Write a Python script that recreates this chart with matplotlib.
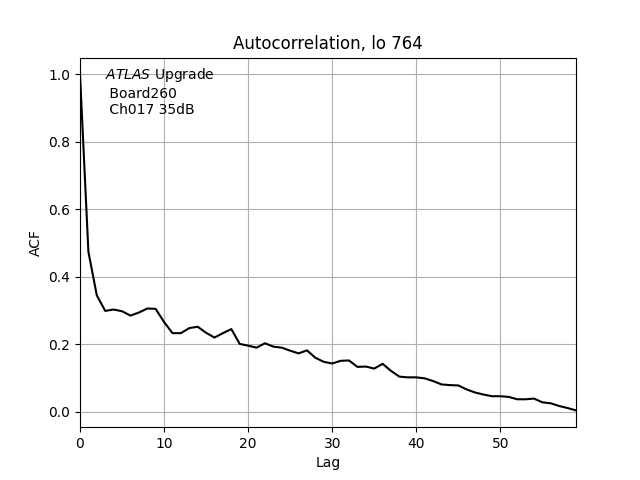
import matplotlib
matplotlib.use("Agg")
import matplotlib.pyplot as plt
import numpy as np

lags = list(range(60))
acf = [1.0, 0.474, 0.345, 0.299, 0.303, 0.298, 0.285, 0.294, 0.306, 0.305,
       0.266, 0.233, 0.233, 0.248, 0.252, 0.234, 0.220, 0.233, 0.245, 0.201,
       0.196, 0.190, 0.203, 0.193, 0.190, 0.181, 0.173, 0.182, 0.160, 0.148,
       0.143, 0.151, 0.152, 0.133, 0.134, 0.128, 0.142, 0.121, 0.104, 0.102,
       0.102, 0.099, 0.091, 0.081, 0.079, 0.078, 0.066, 0.057, 0.051, 0.046,
       0.046, 0.044, 0.037, 0.037, 0.039, 0.028, 0.025, 0.017, 0.011, 0.004]

fig, ax = plt.subplots(figsize=(6.4, 4.8), dpi=100)
ax.plot(lags, acf, color="black", linewidth=1.5)
ax.set_xlim(0, 59)
ax.set_title("Autocorrelation, lo 764")
ax.set_xlabel("Lag")
ax.set_ylabel("ACF")
ax.grid(True)
ax.text(0.05, 0.976, r"$\it{ATLAS}$ Upgrade" + "\n Board260\n Ch017 35dB",
        transform=ax.transAxes, va="top", ha="left")
fig.savefig("out.png", dpi=100)
